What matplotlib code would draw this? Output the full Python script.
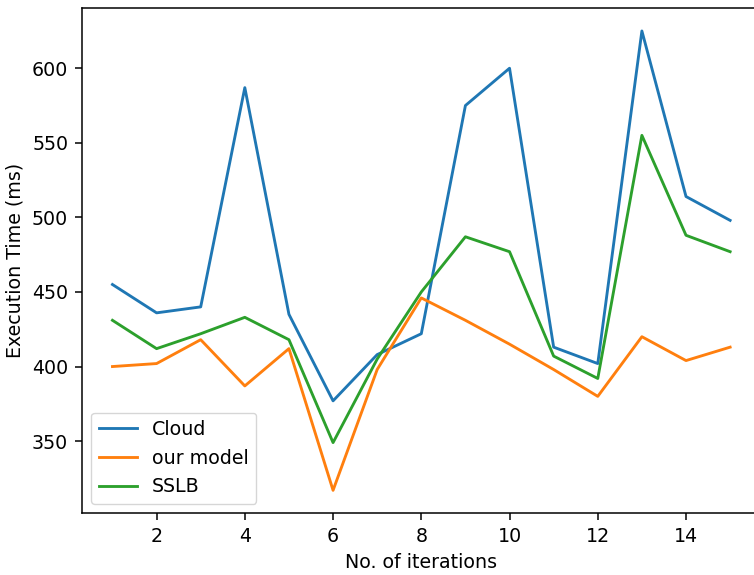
import matplotlib
matplotlib.use("Agg")
import matplotlib.pyplot as plt

# Execution time per iteration for each scheduling approach
iterations = list(range(1, 16))
cloud = [455, 436, 440, 587, 435, 377, 408, 422, 575, 600, 413, 402, 625, 514, 498]
our_model = [400, 402, 418, 387, 412, 317, 398, 446, 431, 415, 398, 380, 420, 404, 413]
sslb = [431, 412, 422, 433, 418, 349, 405, 450, 487, 477, 407, 392, 555, 488, 477]

S = 1.37  # overall scale factor for fonts and line widths

plt.rcParams.update({
    "font.family": "DejaVu Sans",
    "font.size": 10 * S,
    "axes.linewidth": 0.8 * S,
    "xtick.major.size": 3.5 * S,
    "ytick.major.size": 3.5 * S,
    "xtick.major.width": 0.8 * S,
    "ytick.major.width": 0.8 * S,
    "xtick.major.pad": 3.5 * S,
    "ytick.major.pad": 3.5 * S,
    "lines.linewidth": 1.5 * S,
})

fig = plt.figure(figsize=(7.54, 5.75), dpi=100)
ax = fig.add_axes([0.1082, 0.1073, 0.9011, 0.8788])

ax.plot(iterations, cloud, color="#1f77b4", label="Cloud")
ax.plot(iterations, our_model, color="#ff7f0e", label="our model")
ax.plot(iterations, sslb, color="#2ca02c", label="SSLB")

ax.set_xticks([2, 4, 6, 8, 10, 12, 14])
ax.set_yticks([350, 400, 450, 500, 550, 600])
ax.set_xlabel("No. of iterations", labelpad=4 * S)
ax.set_ylabel("Execution Time (ms)", labelpad=4 * S)
ax.legend(loc="lower left")

fig.savefig("out.png", dpi=100)
